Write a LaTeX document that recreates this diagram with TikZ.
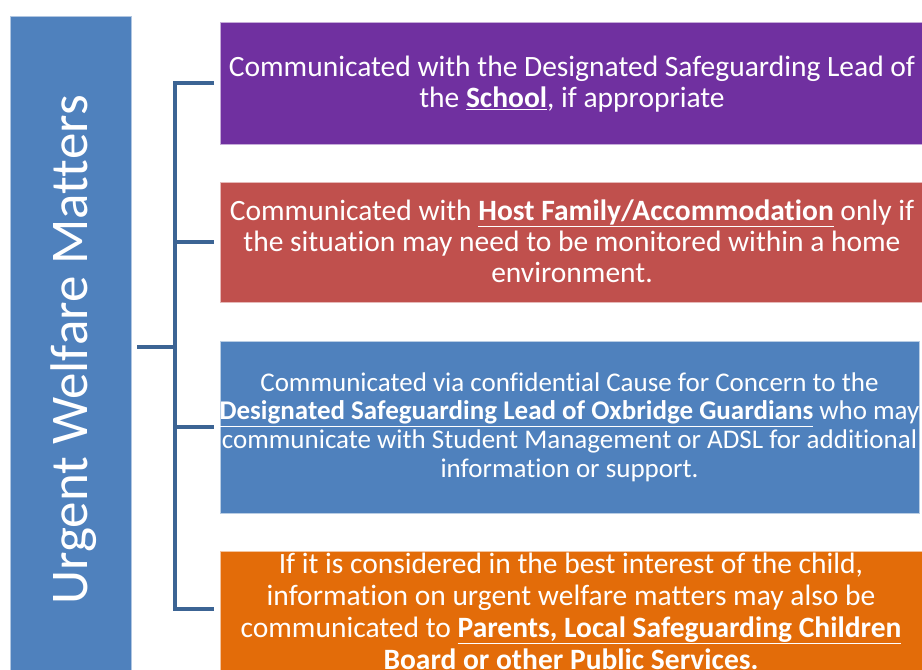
\documentclass[tikz,border=0pt]{standalone}
\usepackage{fontspec}
\setmainfont{Carlito}[Ligatures={NoCommon}]
\definecolor{barblue}{HTML}{4F81BD}
\definecolor{brk}{HTML}{3C6494}
\definecolor{cpurple}{HTML}{7030A0}
\definecolor{cred}{HTML}{C0504D}
\definecolor{corange}{HTML}{E36C09}
\tikzset{
  txt/.style={text=white, align=center, font=\fontsize{29.5}{31.2}\selectfont, inner sep=0pt},
  txto/.style={text=white, align=center, font=\fontsize{29.5}{32}\selectfont, inner sep=0pt},
  txtb/.style={text=white, align=center, font=\fontsize{27}{28.6}\selectfont, inner sep=0pt},
  bracket/.style={draw=brk, line width=4pt}
}
\begin{document}
\begin{tikzpicture}[x=1pt,y=1pt]
\useasboundingbox (0,0) rectangle (922,670);
\fill[barblue] (10,0) rectangle (131,654);
\draw[white!55!barblue, line width=0.8pt] (10,0) -- (10,654) -- (131,654) -- (131,0);
\node[rotate=90, text=white, font=\fontsize{53}{60}\selectfont, inner sep=0pt] (title) at (74,320) {Urgent Welfare Matters};

\fill[cpurple] (220,526) rectangle (922,648);
\draw[white!60!cpurple, line width=0.8pt] (922,648) -- (220,648) -- (220,526) -- (922,526);
\fill[cred] (220,368) rectangle (922,488);
\draw[white!60!cred, line width=0.8pt] (922,488) -- (220,488) -- (220,368) -- (922,368);
\fill[barblue] (220,157) rectangle (919,329);
\draw[white!60!barblue, line width=0.8pt] (220,157) rectangle (919,329);
\fill[corange] (220,0) rectangle (922,119);
\draw[white!60!corange, line width=0.8pt] (220,0) -- (220,119) -- (922,119);

\coordinate (b1) at (214,587);
\coordinate (b2) at (214,428);
\coordinate (b3) at (214,243);
\coordinate (b4) at (214,61);
\coordinate (bm) at (137,323);
\draw[bracket, line join=miter] (b1) -- (175,587) -- (175,61) -- (b4);
\draw[bracket] (175,428) -- (b2);
\draw[bracket] (175,243) -- (b3);
\draw[bracket] (175,323) -- (bm);

\node[txt] (t1) at (572,586) {Communicated with the Designated Safeguarding Lead of\\the \underline{\textbf{School}}, if appropriate};
\node[txt] (t2) at (572,429) {Communicated with \underline{\textbf{Host Family/Accommodation}} only if\\the situation may need to be monitored within a home\\environment.};
\node[txtb] (t3) at (569.5,243) {Communicated via confidential Cause for Concern to the\\\underline{\textbf{Designated Safeguarding Lead of Oxbridge Guardians}} who may\\communicate with Student Management or ADSL for additional\\information or support.};
\node[txto] (t4) at (571,59) {If it is considered in the best interest of the child,\\information on urgent welfare matters may also be\\communicated to \underline{\textbf{Parents, Local Safeguarding Children}}\\\textbf{Board or other Public Services.}};
\end{tikzpicture}
\end{document}
